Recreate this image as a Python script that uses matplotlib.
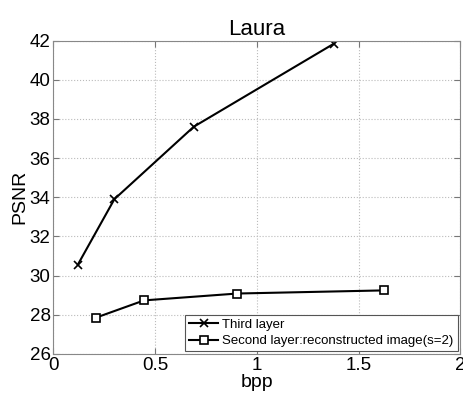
import matplotlib.pyplot as plt

plt.rcParams['font.family'] = ['Liberation Sans', 'DejaVu Sans']

# data
third_bpp = [0.12, 0.30, 0.69, 1.38]
third_psnr = [30.55, 33.9, 37.6, 41.85]
second_bpp = [0.21, 0.446, 0.904, 1.625]
second_psnr = [27.85, 28.73, 29.08, 29.24]

xticks = [0, 0.5, 1, 1.5, 2]
xticklabels = ['0', '0.5', '1', '1.5', '2']
yticks = [26, 28, 30, 32, 34, 36, 38, 40, 42]

fig = plt.figure(figsize=(4.64, 3.98), dpi=100)
ax = fig.add_axes([0.115, 0.111, 0.877, 0.787])

ax.plot(third_bpp, third_psnr, color='black', linewidth=1.5, marker='x',
        markersize=6, markeredgewidth=1.2, label='Third layer')
ax.plot(second_bpp, second_psnr, color='black', linewidth=1.5, marker='s',
        markersize=6, markerfacecolor='white', markeredgewidth=1.2,
        label='Second layer:reconstructed image(s=2)')

ax.set_xlim(0, 2)
ax.set_ylim(26, 42)
ax.set_xticks(xticks)
ax.set_xticklabels(xticklabels)
ax.set_yticks(yticks)
ax.tick_params(direction='in', labelsize=13.5, length=4, color='#777777',
               top=True, right=True, pad=2)
ax.grid(True, linestyle=':', color='#bbbbbb', linewidth=0.8)
for s in ax.spines.values():
    s.set_color('#888888')

ax.set_xlabel('bpp', fontsize=14, labelpad=0)
ax.set_ylabel('PSNR', fontsize=14, labelpad=1)
ax.set_title('Laura', fontsize=16, pad=4)

leg = ax.legend(loc='lower right', fontsize=9.5, fancybox=False,
                edgecolor='#555555', framealpha=1, borderpad=0.3,
                labelspacing=0.3, handlelength=2.2, handletextpad=0.3,
                borderaxespad=0.2)
leg.get_frame().set_linewidth(0.8)

fig.savefig('out.png', dpi=100)
